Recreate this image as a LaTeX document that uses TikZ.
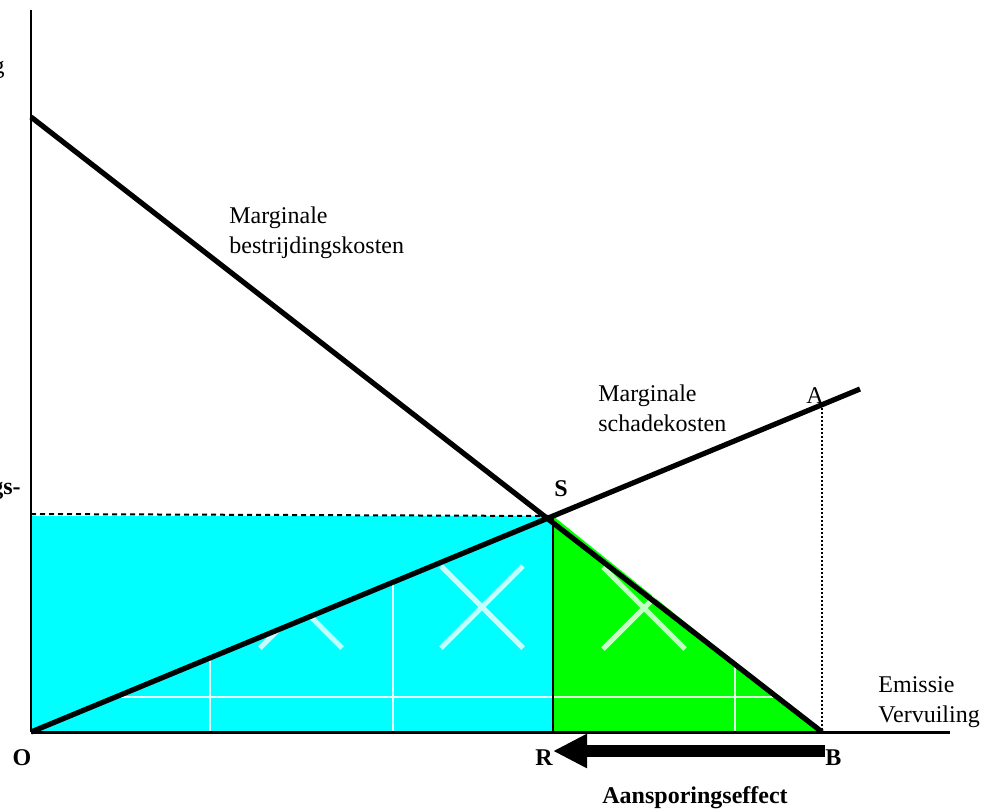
\documentclass[tikz,border=0pt]{standalone}
\usepackage{fontspec}
\setmainfont{Liberation Serif}
\usepackage{xcolor}
\usepackage{tikz}
\usetikzlibrary{arrows.meta, positioning}
\definecolor{aqua}{HTML}{00FFFF}
\definecolor{lime}{HTML}{00FF00}
\definecolor{aquamark}{HTML}{C4FFFF}
\definecolor{limemark}{HTML}{C4FFC4}
\tikzstyle{lbl} = [inner sep=0pt, align=left, font=\fontsize{12}{15}\selectfont]
\tikzstyle{pointlbl} = [inner sep=0pt, font=\fontsize{12}{15}\selectfont\bfseries]
\tikzstyle{curve} = [line width=2.6pt]
\tikzstyle{axis} = [line width=1.5pt]
\tikzstyle{wline} = [line width=0.7pt]
\tikzstyle{wcross} = [line width=2.6pt]
\tikzstyle{push} = [line width=6pt, -{Triangle[length=17pt, width=16pt]}]

\begin{document}
\begin{tikzpicture}[x=0.5pt, y=-0.5pt]
	\useasboundingbox (0,0) rectangle (999,809);
	
	% Points
	\coordinate (O) at (31,732);
	\coordinate (ytop) at (31,10);
	\coordinate (ybend) at (31,102);
	\coordinate (xend) at (950,732);
	\coordinate (mbcTop) at (31,117);
	\coordinate (mdcEnd) at (860,389);
	\coordinate (S) at (553,516);
	\coordinate (R) at (553,732);
	\coordinate (B) at (822,732);
	\coordinate (A) at (822,404);
	
	% Areas
	\fill[aqua] (O) rectangle (S);
	\fill[lime] (R) -- (S) -- (B) -- cycle;
	
	% Marks in the areas
	\begin{scope}
		\clip (O) -- (S) -- (R) -- cycle;
		\draw[wline, white!60!aquamark] (31,697) -- (553,697);
		\draw[wline, white!60!aquamark] (210,500) -- (210,732);
		\draw[wline, white!60!aquamark] (393,500) -- (393,732);
		\draw[wcross, aquamark] (260,566) -- (342,648) (260,648) -- (342,566);
		\draw[wcross, aquamark] (441,566) -- (523,648) (441,648) -- (523,566);
	\end{scope}
	\begin{scope}
		\clip (R) -- (S) -- (B) -- cycle;
		\draw[wline, white!40!limemark] (553,697) -- (822,697);
		\draw[wline, white!40!limemark] (735,500) -- (735,732);
		\draw[wcross, limemark] (603,567) -- (685,649) (603,649) -- (685,567);
	\end{scope}
	
	% Lines
	\draw[line width=0.8pt] (S) -- (R);
	\draw[line width=1pt, dash pattern=on 2.5pt off 2pt] (31,514) -- (S);
	\draw[line width=0.6pt, dash pattern=on 1pt off 1pt] (A) -- (B);
	\draw[line width=0.6pt] (ytop) -- (ybend);
	\draw[line width=1.1pt] (ybend) -- (O);
	\draw[axis] (O) -- (xend);
	\draw[curve] (mbcTop) -- (B);
	\draw[curve] (O) -- (mdcEnd);
	
	% Nodes
	\node (gtop) [lbl, anchor=base east] at (5,73) {g};
	\node (gmid) [pointlbl, anchor=base east] at (21,494) {gs-};
	\node (mbc) [lbl, anchor=north west] at (229,206) {Marginale\\bestrijdingskosten};
	\node (mdc) [lbl, anchor=north west] at (598,384) {Marginale\\schadekosten};
	\node (emis) [lbl, anchor=north west] at (878,676) {Emissie\\Vervuiling};
	\node (Opt) [pointlbl, anchor=base] at (22,765) {O};
	\node (Rpt) [pointlbl, anchor=base east] at (553,765) {R};
	\node (Bpt) [pointlbl, anchor=base west] at (825,765) {B};
	\node (Spt) [pointlbl, anchor=base west] at (554,496) {S};
	\node (Apt) [lbl, anchor=base west] at (806,403) {A};
	\node (effect) [pointlbl, anchor=base west] at (602,803) {Aansporingseffect};
	
	% Arrow
	\draw[push] ([yshift=7pt]Bpt.base west) -- ([yshift=7pt]Rpt.base east);
	
\end{tikzpicture}
\end{document}
